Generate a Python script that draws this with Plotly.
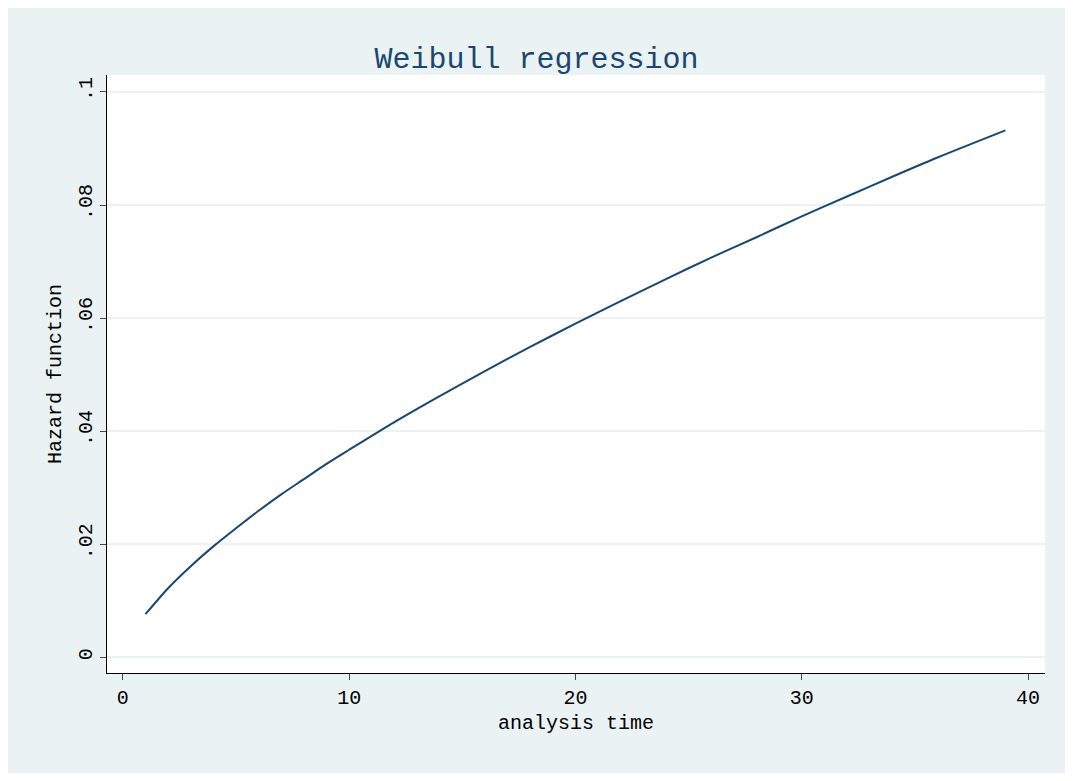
import plotly.graph_objects as go

t = [1, 2, 3, 4, 5, 6, 7, 8, 9, 10, 12, 14, 16, 18, 20, 22, 24, 26, 28, 30, 32, 34, 36, 39]
hazard = [.0076, .0122, .0161, .0196, .0228, .0259, .0288, .0315, .0342, .0367, .0416, .0462,
          .0506, .0549, .0590, .0630, .0669, .0707, .0743, .0780, .0815, .0850, .0884, .0932]
ytick_vals = [0, .02, .04, .06, .08, .1]
ytick_text = ["0", ".02", ".04", ".06", ".08", ".1"]
xtick_vals = [0, 10, 20, 30, 40]

font = "Liberation Mono, DejaVu Sans Mono, monospace"
fig = go.Figure(go.Scatter(x=t, y=hazard, mode="lines", line=dict(color="#1a476f", width=2, shape="spline", smoothing=0.8)))
fig.update_layout(
    width=1057, height=765,
    paper_bgcolor="#eaf2f3", plot_bgcolor="white",
    margin=dict(l=99, r=20, t=67, b=100),
    title=dict(text="Weibull regression", x=0.5, xanchor="center", y=0.935, yanchor="middle",
               font=dict(family=font, size=30, color="#1a476f")),
    font=dict(family=font, size=20, color="black"),
    showlegend=False,
)
fig.update_xaxes(range=[-0.7, 40.75], tickvals=xtick_vals, showgrid=False, zeroline=False,
                 showline=True, linecolor="black", linewidth=1, ticks="outside", ticklen=6,
                 title=dict(text="analysis time", font=dict(size=20), standoff=5))
fig.update_yaxes(range=[-0.0028, 0.103], tickvals=ytick_vals, ticktext=ytick_text, tickangle=-90,
                 showgrid=True, gridcolor="#eaf2f3", gridwidth=2, zeroline=False,
                 showline=True, linecolor="black", linewidth=1, ticks="outside", ticklen=6,
                 title=dict(text="Hazard function", font=dict(size=20), standoff=8))
fig.write_html("out.html")
